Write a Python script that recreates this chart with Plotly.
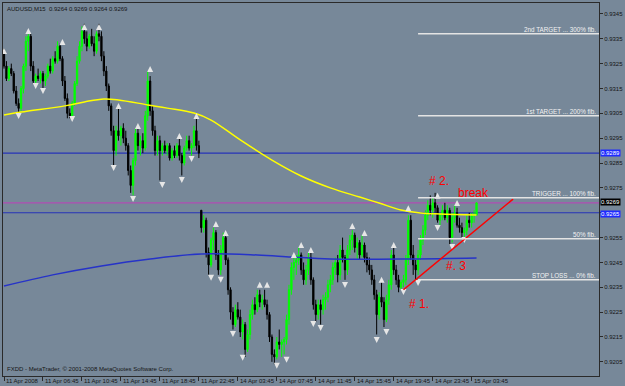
import plotly.graph_objects as go

P = 10000.0  # prices below are in pips (0.0001)

opens = [9330,9324,9319,9323,9321,9314,9309,9307,9315,9324,9334,9336,9324,9318,9320,9319,9321,9318,9320,9324,
         9322,9327,9326,9332,9327,9318,9311,9305,9304,9309,9317,9326,9332,9338,9335,9332,9336,9333,9330,9337,
         9336,9328,9322,9316,9308,9298,9290,9298,9296,9299,9295,9292,9282,9276,9286,9297,9292,9294,9291,9304,
         9318,9306,9298,9290,9294,9290,9292,9290,9292,9287,9290,9288,9292,9288,9285,9291,9294,9291,9292,9298,
         9292,9266,9259,9262,9249,9244,9254,9257,9248,9242,9250,9255,9246,9234,9225,9220,9226,9223,9217,9220,
         9210,9216,9224,9228,9226,9232,9229,9230,9228,9224,9215,9208,9207,9213,9212,9213,9214,9222,9234,9243,
         9245,9246,9248,9242,9238,9242,9247,9238,9228,9224,9228,9226,9230,9231,9236,9238,9243,9245,9240,9250,
         9247,9242,9250,9254,9256,9251,9253,9248,9252,9247,9244,9242,9238,9232,9224,9231,9229,9222,9230,9236,
         9248,9242,9238,9235,9237,9238,9246,9262,9248,9244,9242,9248,9254,9258,9264,9268,9266,9269,9267,9262,
         9264,9266,9263,9266,9255,9263,9265,9260,9259,9257,9258,9262,9261,9264,9264]
highs = [9331,9326,9324,9325,9322,9316,9311,9316,9325,9336,9338,9337,9326,9321,9323,9322,9322,9321,9325,9327,
         9328,9330,9334,9333,9328,9320,9313,9307,9310,9318,9328,9334,9340,9341,9338,9337,9339,9336,9338,9341,
         9338,9330,9324,9317,9309,9300,9300,9308,9300,9301,9298,9293,9284,9287,9299,9299,9296,9297,9306,9322,
         9320,9308,9300,9296,9296,9293,9294,9293,9293,9291,9292,9293,9295,9289,9292,9296,9296,9293,9300,9303,
         9294,9266,9264,9263,9251,9255,9259,9258,9250,9252,9257,9256,9247,9235,9227,9228,9229,9226,9222,9221,
         9218,9226,9230,9231,9234,9234,9232,9234,9230,9225,9216,9210,9215,9218,9214,9215,9224,9236,9245,9247,
         9248,9251,9249,9245,9244,9249,9249,9239,9230,9230,9230,9232,9233,9238,9240,9245,9247,9248,9252,9255,
         9248,9252,9256,9258,9257,9255,9254,9256,9253,9249,9247,9244,9240,9234,9233,9237,9231,9232,9238,9250,
         9251,9244,9240,9238,9240,9248,9264,9264,9252,9246,9250,9256,9260,9266,9270,9272,9271,9273,9268,9265,
         9268,9269,9268,9267,9265,9268,9267,9263,9261,9259,9264,9265,9265,9266,9269]
lows = [9323,9318,9318,9320,9313,9308,9305,9306,9313,9322,9330,9322,9317,9317,9318,9317,9315,9316,9319,9321,
        9321,9325,9325,9326,9316,9310,9303,9303,9303,9308,9316,9325,9330,9333,9330,9331,9332,9328,9329,9334,
        9326,9320,9314,9306,9296,9284,9288,9294,9292,9293,9290,9280,9273,9272,9284,9290,9288,9289,9290,9302,
        9304,9296,9288,9288,9278,9288,9289,9288,9286,9286,9287,9287,9286,9280,9284,9290,9290,9288,9291,9290,
        9287,9257,9257,9247,9240,9243,9250,9246,9240,9240,9248,9244,9232,9222,9218,9219,9222,9215,9214,9207,
        9209,9214,9222,9224,9225,9227,9226,9227,9222,9213,9205,9204,9206,9210,9207,9208,9212,9220,9232,9238,
        9240,9244,9240,9236,9236,9240,9236,9226,9221,9222,9220,9224,9226,9229,9233,9236,9240,9237,9238,9245,
        9238,9240,9248,9250,9249,9246,9246,9247,9245,9241,9240,9236,9230,9216,9222,9227,9219,9221,9228,9234,
        9240,9236,9233,9234,9235,9236,9244,9246,9240,9238,9240,9246,9252,9256,9262,9264,9263,9265,9261,9260,
        9262,9262,9261,9252,9253,9261,9259,9257,9255,9255,9256,9259,9259,9261,9264]
closes = [9324,9319,9323,9321,9314,9309,9307,9315,9324,9334,9336,9324,9318,9320,9319,9321,9318,9320,9324,9322,
          9327,9326,9332,9327,9318,9311,9305,9304,9309,9317,9326,9332,9338,9335,9332,9336,9333,9330,9337,9336,
          9328,9322,9316,9308,9298,9290,9298,9296,9299,9295,9292,9282,9276,9286,9297,9292,9294,9291,9304,9318,
          9306,9298,9290,9294,9290,9292,9290,9292,9287,9290,9288,9292,9288,9285,9291,9294,9291,9292,9298,9292,
          9289,9259,9262,9249,9244,9254,9257,9248,9242,9250,9255,9246,9234,9225,9220,9226,9223,9217,9220,9210,
          9216,9224,9228,9226,9232,9229,9230,9228,9224,9215,9208,9207,9213,9212,9213,9214,9222,9234,9243,9245,
          9246,9248,9242,9238,9242,9247,9238,9228,9224,9228,9226,9230,9231,9236,9238,9243,9245,9240,9250,9247,
          9242,9250,9254,9256,9251,9253,9248,9252,9247,9244,9242,9238,9232,9224,9231,9229,9222,9230,9236,9248,
          9242,9238,9235,9237,9238,9246,9262,9248,9244,9242,9248,9254,9258,9264,9268,9266,9269,9267,9262,9264,
          9266,9263,9266,9255,9263,9265,9260,9259,9257,9258,9262,9261,9264,9264,9269]

# moving averages (bar index, pips)
ma_yellow_idx = [0,7,25,33,41,47,59,67,78,85,97,110,122,134,146,154,163,171,179,194]
ma_yellow_val = [9304.3,9305.5,9308.0,9309.6,9310.8,9310.4,9308.4,9307.1,9305.1,9302.3,9294.3,9286.2,
                 9279.8,9275.0,9271.3,9268.9,9266.1,9264.9,9264.5,9264.1]
ma_blue_idx = [0,20,40,60,81,104,118,134,167,194]
ma_blue_val = [9235.5,9240.0,9243.6,9246.4,9248.4,9248.0,9247.2,9246.4,9246.4,9246.8]

# fractals (bar index, pips)
frac_up_idx = [0,10,24,33,39,47,55,60,72,79,87,91,105,108,119,122,126,143,148,155,160,166,178,186]
frac_up_val = [9331.3,9339.3,9334.9,9340.9,9340.9,9309.2,9301.1,9324.0,9297.1,9305.1,9261.7,9258.1,
               9237.2,9237.2,9249.2,9253.2,9251.2,9260.9,9258.1,9239.2,9253.2,9268.0,9273.0,9270.1]
frac_dn_idx = [6,13,16,28,45,53,65,73,77,85,89,94,98,112,116,127,130,140,153,157,164,170,178,184,189]
frac_dn_val = [9302.7,9314.8,9312.8,9301.5,9281.8,9269.3,9275.0,9277.0,9285.4,9237.6,9236.8,9215.0,
               9205.4,9202.2,9204.6,9219.0,9217.4,9234.7,9212.6,9215.8,9231.9,9235.5,9257.7,9250.0,9252.8]

# horizontal levels
hline_levels = [0.9289, 0.9269, 0.9265]
hline_colors = ["#2633b8", "#b04cb4", "#2633b8"]
label_bg = ["#1f2bff", "#000000", "#1f2bff"]
label_shift = [0, 1, -1]

fib_start = 170
fib_levels = [0.9337, 0.9304, 0.9271, 0.92545, 0.9238]
fib_texts = ["2nd TARGET ... 300% fib.", "1st TARGET ... 200% fib.", "TRIGGER ... 100% fib.",
             "50% fib.", "STOP LOSS ... 0% fib."]

trend_idx = [164, 209]
trend_val = [0.9234, 0.92705]

notes = ["# 2.", "break", "#. 3", "# 1."]
notes_idx = [178.5, 192.8, 185.5, 170.3]
notes_val = [0.92778, 0.9273, 0.92436, 0.92283]

tick_idx = [0,16,32,48,64,80,96,112,128,144,160,176,192]
tick_text = ["11 Apr 2008","11 Apr 06:45","11 Apr 10:45","11 Apr 14:45","11 Apr 18:45","11 Apr 22:45",
             "14 Apr 03:45","14 Apr 07:45","14 Apr 11:45","14 Apr 15:45","14 Apr 19:45","14 Apr 23:45",
             "15 Apr 03:45"]
ytick_vals = [0.9205 + 0.001 * k for k in range(15)]
# the 0.9265 tick label is hidden behind the price box in the reference
ytick_text = ["" if abs(v - 0.9265) < 1e-6 else "%.4f" % v for v in ytick_vals]

FONT = "Liberation Sans"
BG = "#778899"
XMIN, XMAX = -0.41, 244.28
YMIN, YMAX = 0.91993, 0.93494

idx = list(range(len(closes)))
fig = go.Figure()

fig.add_trace(go.Scatter(x=ma_blue_idx, y=[v / P for v in ma_blue_val], mode="lines",
                         line=dict(color="#2633c8", width=1.5, shape="spline"), hoverinfo="skip", showlegend=False))
fig.add_trace(go.Scatter(x=ma_yellow_idx, y=[v / P for v in ma_yellow_val], mode="lines",
                         line=dict(color="#ffff00", width=1.5, shape="spline"), hoverinfo="skip", showlegend=False))

fig.add_trace(go.Candlestick(
    x=idx, open=[v / P for v in opens], high=[v / P for v in highs],
    low=[v / P for v in lows], close=[v / P for v in closes],
    increasing=dict(line=dict(color="#00ff00", width=1), fillcolor="#00ff00"),
    decreasing=dict(line=dict(color="#000000", width=1), fillcolor="#000000"),
    whiskerwidth=0, showlegend=False, hoverinfo="skip"))

fig.add_trace(go.Scatter(x=frac_up_idx, y=[v / P for v in frac_up_val], mode="markers",
                         marker=dict(symbol="arrow-up", size=6, color="#e6e6e6", line=dict(width=0)),
                         hoverinfo="skip", showlegend=False))
fig.add_trace(go.Scatter(x=frac_dn_idx, y=[v / P for v in frac_dn_val], mode="markers",
                         marker=dict(symbol="arrow-down", size=6, color="#e6e6e6", line=dict(width=0)),
                         hoverinfo="skip", showlegend=False))

fig.add_trace(go.Scatter(x=trend_idx, y=trend_val, mode="lines", line=dict(color="#ff0000", width=1.5),
                         hoverinfo="skip", showlegend=False, cliponaxis=True))

shapes = []
for lv, c in zip(hline_levels, hline_colors):
    shapes.append(dict(type="line", xref="paper", x0=0, x1=1, yref="y", y0=lv, y1=lv,
                       line=dict(color=c, width=1.2), layer="below"))
for lv in fib_levels:
    shapes.append(dict(type="line", xref="x", x0=fib_start, x1=XMAX, yref="y", y0=lv, y1=lv,
                       line=dict(color="#e4e4e4", width=1.5)))

ann = []
ann.append(dict(x=0, y=1, xref="paper", yref="paper", xanchor="left", yanchor="top", xshift=2, yshift=-1,
                text="AUDUSD,M15  0.9264 0.9269 0.9264 0.9269", showarrow=False,
                font=dict(family=FONT, size=6, color="#151515")))
ann.append(dict(x=0, y=0, xref="paper", yref="paper", xanchor="left", yanchor="bottom", xshift=2, yshift=2,
                text="FXDD - MetaTrader, \u00a9 2001-2008 MetaQuotes Software Corp.", showarrow=False,
                font=dict(family=FONT, size=6, color="#151515")))
for t, s in zip(tick_idx, tick_text):
    ann.append(dict(x=t, y=0, xref="x", yref="paper", xanchor="left", yanchor="top", xshift=0, yshift=0,
                    text=s, showarrow=False, font=dict(family=FONT, size=6, color="#151515")))
for lv, bgc, sh in zip(hline_levels, label_bg, label_shift):
    ann.append(dict(x=1, y=lv, xref="paper", yref="y", xanchor="left", yanchor="middle", xshift=1, yshift=sh,
                    text="%.4f" % lv, showarrow=False, bgcolor=bgc, borderpad=0,
                    font=dict(family=FONT, size=6, color="#ffffff")))
for lv, s in zip(fib_levels, fib_texts):
    ann.append(dict(x=XMAX, y=lv, xref="x", yref="y", xanchor="right", yanchor="bottom", xshift=-1, yshift=-1,
                    text=s, showarrow=False, font=dict(family=FONT, size=6.3, color="#f2f2f2")))
for s, xi, yv in zip(notes, notes_idx, notes_val):
    ann.append(dict(x=xi, y=yv, xref="x", yref="y", xanchor="center", yanchor="middle",
                    text=s, showarrow=False, font=dict(family=FONT, size=12, color="#ff0000")))

fig.update_layout(
    width=625, height=386, margin=dict(l=2, r=24, t=3, b=10),
    paper_bgcolor=BG, plot_bgcolor=BG, boxgap=0.25,
    shapes=shapes, annotations=ann, showlegend=False,
    xaxis=dict(range=[XMIN, XMAX], showgrid=False, zeroline=False, showline=True, mirror=True,
               linecolor="#2a2a2a", linewidth=1, ticks="outside", ticklen=4, tickcolor="#2a2a2a",
               tickvals=tick_idx, showticklabels=False, rangeslider=dict(visible=False), fixedrange=True),
    yaxis=dict(range=[YMIN, YMAX], side="right", showgrid=False, zeroline=False, showline=True, mirror=True,
               linecolor="#2a2a2a", linewidth=1, ticks="outside", ticklen=3, tickcolor="#2a2a2a",
               tickvals=ytick_vals, ticktext=ytick_text,
               tickfont=dict(family=FONT, size=6, color="#151515"), fixedrange=True),
)

fig.write_html("out.html")
